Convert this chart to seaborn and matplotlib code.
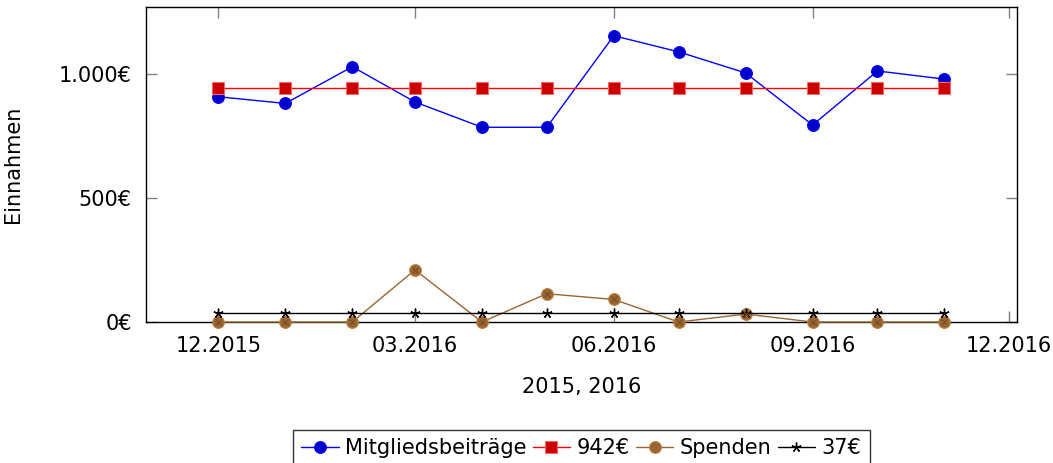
import pandas as pd
import matplotlib
matplotlib.use("Agg")
import matplotlib.pyplot as plt
import matplotlib.dates as mdates
from matplotlib.ticker import FuncFormatter
import seaborn as sns

# Data (monthly, Dec 2015 - Nov 2016)
months = pd.date_range("2015-12-01", "2016-11-01", freq="MS")
beitraege = [908, 881, 1029, 887, 785, 785, 1154, 1089, 1004, 794, 1012, 979]
beitraege_avg = [942] * 12
spenden = [0, 0, 0, 210, 0, 114, 91, 0, 32, 0, 0, 0]
spenden_avg = [37] * 12
tick_dates = pd.to_datetime(["2015-12-01", "2016-03-01", "2016-06-01", "2016-09-01", "2016-12-01"])
y_ticks = [0, 500, 1000]

sns.set_style("ticks")
plt.rcParams["font.family"] = ["DejaVu Sans"]
plt.rcParams["font.size"] = 15
plt.rcParams["text.color"] = "black"
plt.rcParams["axes.labelcolor"] = "black"

fig = plt.figure(figsize=(10.53, 4.63), dpi=100)
ax = fig.add_axes([0.1384, 0.3045, 0.8271, 0.6805])

sns.lineplot(x=months, y=beitraege, ax=ax, color=(0, 0, 1), lw=1,
             marker="o", markersize=8.5, mfc=(0, 0, 0.8), mec=(0, 0, 1),
             label="Mitgliedsbeiträge", clip_on=False, zorder=3)
sns.lineplot(x=months, y=beitraege_avg, ax=ax, color=(1, 0, 0), lw=1,
             marker="s", markersize=8, mfc=(0.8, 0, 0), mec=(1, 0.4, 0.4),
             label="942€", clip_on=False, zorder=3)
sns.lineplot(x=months, y=spenden, ax=ax, color=(0.6, 0.4, 0.2), lw=1,
             marker="o", markersize=8.5, mfc=(0.6, 0.4, 0.2), mec=(0.75, 0.5, 0.25),
             label="Spenden", clip_on=False, zorder=3)
ax.plot(months, spenden, ls="none", marker="x", markersize=5, mec=(0.45, 0.3, 0.15),
        mew=0.8, clip_on=False, zorder=4)
sns.lineplot(x=months, y=spenden_avg, ax=ax, color="black", lw=1,
             marker=(5, 2, 0), markersize=7, mec="black", mew=1,
             label="37€", clip_on=False, zorder=3)

ax.set_xlim(pd.Timestamp("2015-10-28 10:00"), pd.Timestamp("2016-12-04 10:00"))
ax.set_ylim(0, 1270)
ax.set_xticks(tick_dates)
ax.xaxis.set_major_formatter(mdates.DateFormatter("%m.%Y"))
ax.set_yticks(y_ticks)
ax.yaxis.set_major_formatter(FuncFormatter(lambda v, p: f"{int(v):,}€".replace(",", ".")))

ax.tick_params(direction="in", length=8, width=1, color="0.5", labelcolor="black",
               top=True, right=True, labelsize=15, pad=10)
for s in ax.spines.values():
    s.set_color("black")
    s.set_linewidth(1)

ax.set_xlabel("2015, 2016", fontsize=15, labelpad=15)
ax.set_ylabel("Einnahmen", fontsize=15, labelpad=26)

leg = ax.legend(loc="upper center", bbox_to_anchor=(0.5, -0.31), ncol=4,
                frameon=True, fancybox=False, edgecolor="black", fontsize=15,
                handlelength=1.8, handletextpad=0.3, columnspacing=0.3,
                borderpad=0.4)
leg.get_frame().set_linewidth(1)

fig.savefig("out.png", dpi=100)
